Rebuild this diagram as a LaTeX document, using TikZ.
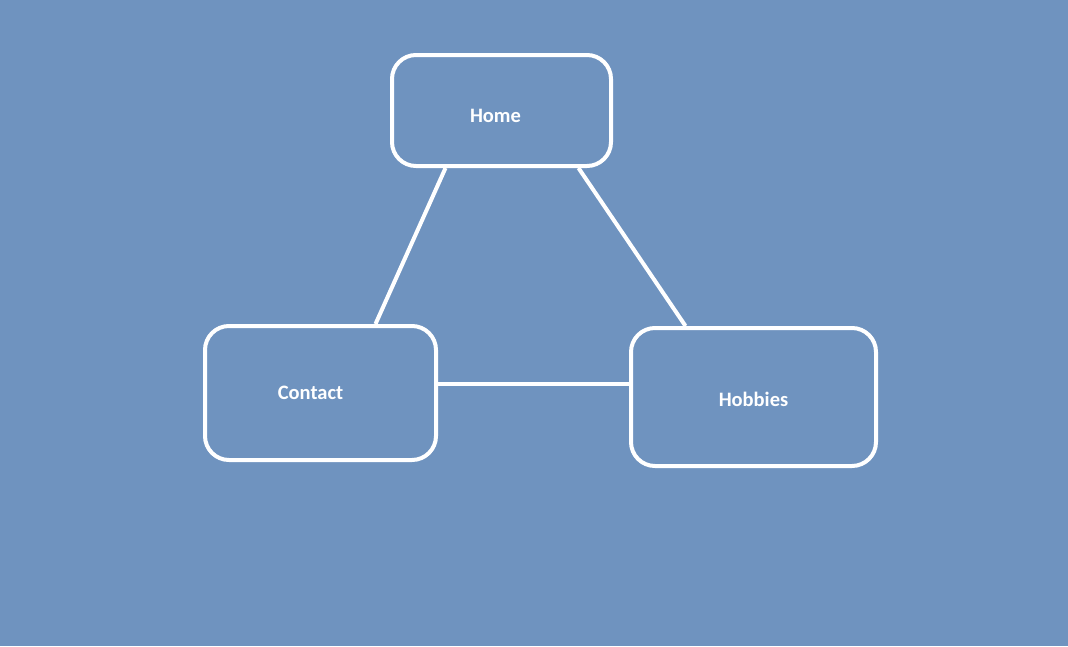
\documentclass[tikz,border=0pt]{standalone}
\usepackage{fontspec}
\setmainfont{Carlito}
\usepackage{xcolor}
\definecolor{bgblue}{RGB}{111,147,191}

\begin{document}
\begin{tikzpicture}[x=1pt,y=-1pt,
    page/.style={draw=white, line width=4pt, rounded corners=24pt,
        inner sep=0pt},
    pagetext/.style={text=white, font=\bfseries\fontsize{20.5}{24}\selectfont,
        inner sep=0pt},
    link/.style={draw=white, line width=4pt}]
    %background
    \fill[bgblue] (0,0) rectangle (1068,646);
    \useasboundingbox (0,0) rectangle (1068,646);

    %pages
    \node[page, minimum width=219pt, minimum height=111pt,
        label={[pagetext, xshift=-6pt, yshift=-5pt]center:Home}] (home) at (501.5,110.5) {};
    \node[page, minimum width=231pt, minimum height=134pt,
        label={[pagetext, xshift=-10pt]center:Contact}] (contact) at (320.5,393) {};
    \node[page, minimum width=245pt, minimum height=138pt,
        label={[pagetext, yshift=-2pt]center:Hobbies}] (hobbies) at (753.5,397) {};

    %links
    \draw[link] ([xshift=-56pt]home.south) -- ([xshift=55pt]contact.north);
    \draw[link] ([xshift=77pt]home.south) -- ([xshift=-68pt]hobbies.north);
    \draw[link] ([yshift=9pt]contact.east) -- ([yshift=13pt]hobbies.west);
\end{tikzpicture}
\end{document}
